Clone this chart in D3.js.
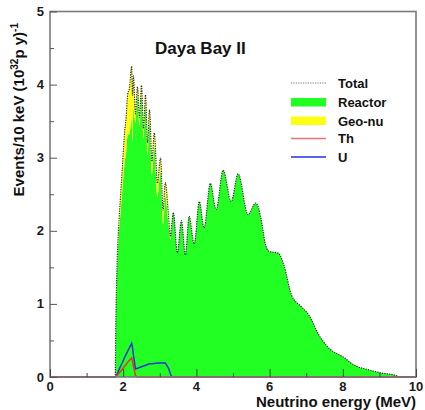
<!DOCTYPE html>
<html>
<head>
<meta charset="utf-8">
<script src="https://cdn.jsdelivr.net/npm/d3@7"></script>
<style>
  body { margin: 0; background: #fff; }
  text { font-family: "Liberation Sans", Arial, sans-serif; font-weight: bold; }
</style>
</head>
<body>
<div id="container"></div>
<script>
const WIDTH = 425,
  HEIGHT = 410,
  LEFT = 50, RIGHT = 416, TOP = 11.5, BOTTOM = 377;

// neutrino energy (MeV)
const energy = [
  0, 1.78, 1.80, 1.83, 1.87, 1.93, 1.98, 2.04, 2.08, 2.12,
  2.17, 2.23, 2.255, 2.28, 2.335, 2.39, 2.445, 2.50, 2.555, 2.61,
  2.665, 2.72, 2.785, 2.85, 2.935, 3.02, 3.09, 3.15, 3.24, 3.29,
  3.33, 3.37, 3.48, 3.59, 3.70, 3.80, 3.94, 4.08, 4.21, 4.38,
  4.54, 4.73, 4.95, 5.14, 5.41, 5.62, 5.79, 5.87, 5.98, 6.06,
  6.19, 6.25, 6.39, 6.60, 6.87, 7.07, 7.34, 7.61, 8.02, 8.32,
  8.70, 9.05, 9.46, 9.52, 10
];
const reactor = [
  0, 0, 0.78, 1.45, 1.88, 2.27, 2.59, 2.94, 3.07, 3.31,
  3.32, 3.53, 3.23, 3.67, 3.47, 3.85, 3.42, 3.85, 3.25, 3.70,
  3.03, 3.48, 2.77, 3.155, 2.46, 2.81, 2.09, 2.47, 2.08, 1.88,
  2.1, 2.25, 1.70, 2.14, 1.67, 2.2, 1.82, 2.40, 2.04, 2.65,
  2.29, 2.83, 2.40, 2.78, 2.22, 2.38, 2.1, 1.85, 1.72, 1.71,
  1.70, 1.69, 1.53, 1.12, 0.96, 0.85, 0.58, 0.40, 0.27, 0.16,
  0.10, 0.055, 0.02, 0, 0
];
const thorium = [
  0, 0, 0.01, 0.02, 0.04, 0.08, 0.11, 0.15, 0.17, 0.20,
  0.23, 0.26, 0.22, 0.15, 0.02, 0, 0, 0, 0, 0,
  0, 0, 0, 0, 0, 0, 0, 0, 0, 0,
  0, 0, 0, 0, 0, 0, 0, 0, 0, 0,
  0, 0, 0, 0, 0, 0, 0, 0, 0, 0,
  0, 0, 0, 0, 0, 0, 0, 0, 0, 0,
  0, 0, 0, 0, 0
];
const uranium = [
  0, 0, 0.01, 0.03, 0.08, 0.15, 0.20, 0.27, 0.31, 0.35,
  0.40, 0.46, 0.40, 0.30, 0.11, 0.12, 0.13, 0.14, 0.15, 0.16,
  0.17, 0.18, 0.18, 0.185, 0.19, 0.19, 0.19, 0.19, 0.12, 0.04,
  0, 0, 0, 0, 0, 0, 0, 0, 0, 0,
  0, 0, 0, 0, 0, 0, 0, 0, 0, 0,
  0, 0, 0, 0, 0, 0, 0, 0, 0, 0,
  0, 0, 0, 0, 0
];
const xTicks = [0, 2, 4, 6, 8, 10];
const yTicks = [0, 1, 2, 3, 4, 5];
const legendLabels = ["Total", "Reactor", "Geo-nu", "Th", "U"];

const GREEN = "#22ff22", YELLOW = "#ffff14", RED = "#ee3322", BLUE = "#2233dd";

const rows = energy.map((e, i) => ({
  e: e,
  reactor: reactor[i],
  geo: thorium[i] + uranium[i],
  th: thorium[i],
  u: uranium[i]
}));

const svg = d3.select("#container")
  .append("svg")
  .attr("width", WIDTH)
  .attr("height", HEIGHT)
  .style("background-color", "#fff");

// Scales
const xScale = d3.scaleLinear().domain([0, 10]).range([LEFT, RIGHT]);
const yScale = d3.scaleLinear().domain([0, 5]).range([BOTTOM, TOP]);

const stacked = d3.stack().keys(["reactor", "geo"])(rows);

const area = d3.area()
  .x(d => xScale(d.data.e))
  .y0(d => yScale(d[0]))
  .y1(d => yScale(d[1]))
  .curve(d3.curveMonotoneX);

svg.selectAll(".layer")
  .data(stacked)
  .join("path")
  .attr("class", "layer")
  .attr("d", area)
  .attr("fill", (d, i) => i === 0 ? GREEN : YELLOW);

// geo-nu components
const lineOf = key => d3.line()
  .x(d => xScale(d.e))
  .y(d => yScale(d[key]));

svg.append("path")
  .attr("d", lineOf("u")(rows))
  .attr("fill", "none")
  .attr("stroke", BLUE)
  .attr("stroke-width", 1.5);

svg.append("path")
  .attr("d", lineOf("th")(rows))
  .attr("fill", "none")
  .attr("stroke", RED)
  .attr("stroke-width", 1.5);

// total (dotted)
svg.append("path")
  .attr("d", d3.line()
    .x(d => xScale(d.data.e))
    .y(d => yScale(d[1]))
    .curve(d3.curveMonotoneX)(stacked[1]))
  .attr("fill", "none")
  .attr("stroke", "#222")
  .attr("stroke-width", 1.1)
  .attr("stroke-dasharray", "1.2,1.2");

// frame
svg.append("rect")
  .attr("x", LEFT).attr("y", TOP)
  .attr("width", RIGHT - LEFT).attr("height", BOTTOM - TOP)
  .attr("fill", "none")
  .attr("stroke", "#7a7a7a")
  .attr("stroke-width", 1.6);

// axes with inner ticks
const xAxis = svg.append("g")
  .attr("transform", `translate(0,${BOTTOM})`)
  .call(d3.axisBottom(xScale).tickValues(d3.range(0, 11, 1)).tickSize(-4).tickFormat(""));
xAxis.select(".domain").remove();
xAxis.selectAll(".tick line").attr("stroke", "#444");
xAxis.selectAll(".tick").filter(d => d % 2 === 0).select("line").attr("y2", -8);

svg.append("g").selectAll("text")
  .data(xTicks)
  .join("text")
  .attr("x", d => xScale(d))
  .attr("y", BOTTOM + 13.5)
  .attr("text-anchor", "middle")
  .attr("font-size", 13)
  .attr("fill", "#1a1a1a")
  .text(d => d);

const yAxis = svg.append("g")
  .attr("transform", `translate(${LEFT},0)`)
  .call(d3.axisLeft(yScale).tickValues(d3.range(0, 5.01, 0.5)).tickSize(-4).tickFormat(""));
yAxis.select(".domain").remove();
yAxis.selectAll(".tick line").attr("stroke", "#555");
yAxis.selectAll(".tick").filter(d => Number.isInteger(d)).select("line").attr("x2", 7);

svg.append("g").selectAll("text")
  .data(yTicks)
  .join("text")
  .attr("x", LEFT - 6)
  .attr("y", d => yScale(d) + 4.5)
  .attr("text-anchor", "end")
  .attr("font-size", 13)
  .attr("fill", "#1a1a1a")
  .text(d => d);

// titles
svg.append("text")
  .attr("x", 155).attr("y", 54)
  .attr("font-size", 17)
  .attr("fill", "#111")
  .text("Daya Bay II");

svg.append("text")
  .attr("x", RIGHT).attr("y", 407)
  .attr("text-anchor", "end")
  .attr("font-size", 15)
  .attr("fill", "#111")
  .text("Neutrino energy (MeV)");

const yTitle = svg.append("text")
  .attr("transform", "translate(24,23) rotate(-90)")
  .attr("text-anchor", "end")
  .attr("font-size", 15)
  .attr("fill", "#111");
yTitle.append("tspan").text("Events/10 keV (10");
yTitle.append("tspan").attr("font-size", 10).attr("dy", -6).text("32");
yTitle.append("tspan").attr("dy", 6).text("p y)");
yTitle.append("tspan").attr("font-size", 10).attr("dy", -6).text("-1");

// legend
const legendY = [83, 102.5, 121, 138.5, 157];
const legend = svg.append("g");
legendLabels.forEach((label, i) => {
  const y = legendY[i];
  if (label === "Reactor" || label === "Geo-nu") {
    legend.append("rect")
      .attr("x", 291).attr("y", y - 4.5)
      .attr("width", 35).attr("height", 8.5)
      .attr("fill", label === "Reactor" ? GREEN : YELLOW);
  } else {
    legend.append("line")
      .attr("x1", 291).attr("x2", 326)
      .attr("y1", y).attr("y2", y)
      .attr("stroke", label === "Total" ? "#777" : label === "Th" ? "#f07070" : BLUE)
      .attr("stroke-width", label === "Total" ? 1 : 1.5)
      .attr("stroke-dasharray", label === "Total" ? "1.2,1.2" : null);
  }
  legend.append("text")
    .attr("x", 338).attr("y", y + 4.5)
    .attr("font-size", 13)
    .attr("fill", "#111")
    .text(label);
});
</script>
</body>
</html>
